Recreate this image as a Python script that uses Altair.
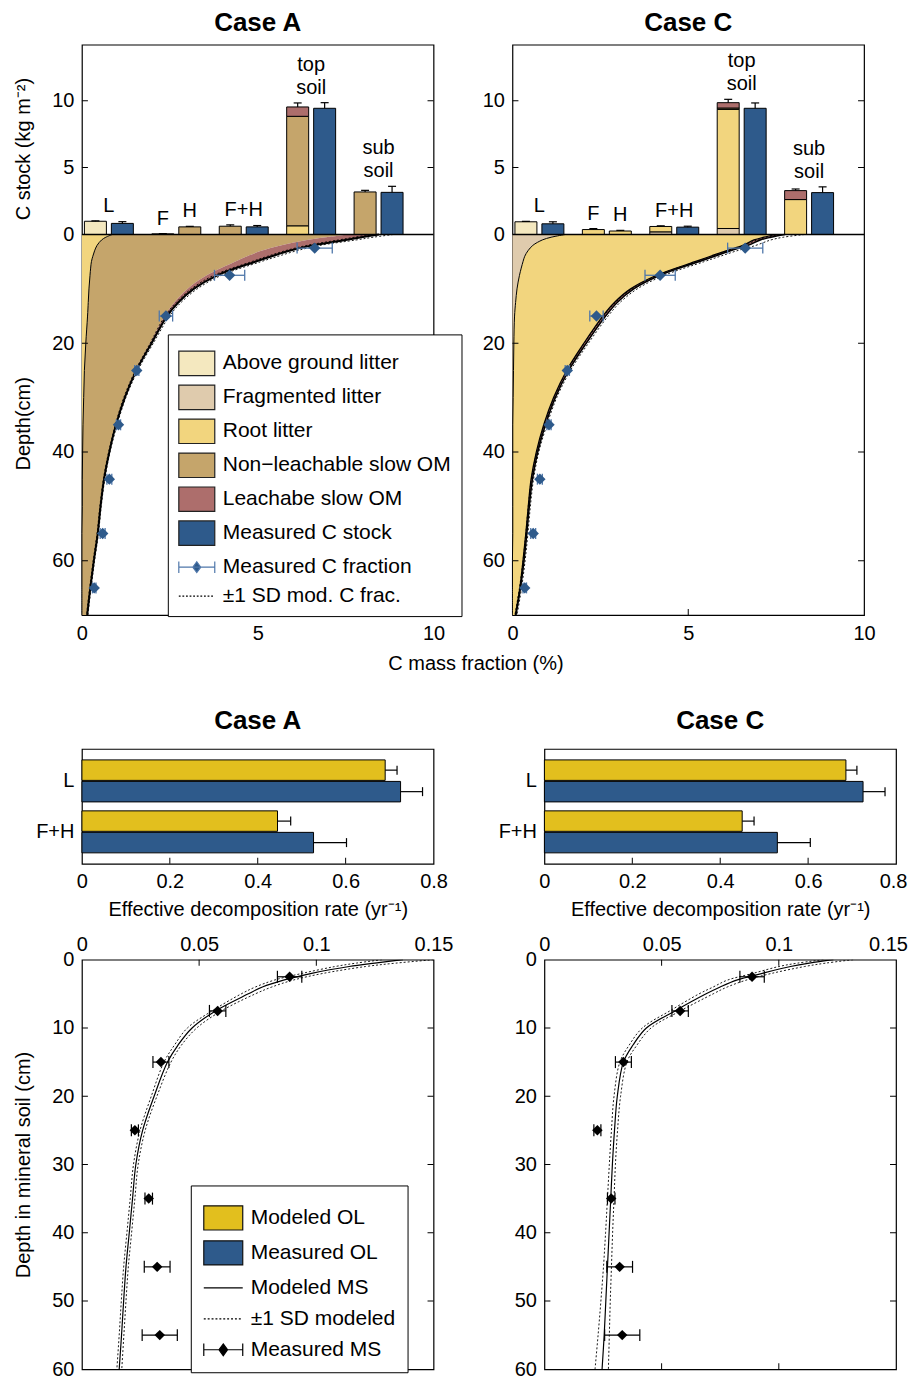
import altair as alt
import pandas as pd

FONT = "Liberation Sans"
MEAS_BLUE = "#2e5a8b"
ERR_BLUE = "#4f77aa"
MOD_YELLOW = "#e2bf1e"

# ---------------------------------------------------------------- names
ABOVE = "Above ground litter"
FRAG = "Fragmented litter"
ROOT = "Root litter"
NONLEACH = "Non\u2212leachable slow OM"
LEACH = "Leachabe slow OM"
MEAS_STOCK = "Measured C stock"
MEAS_FRAC = "Measured C fraction"
SD_FRAC = "\u00b11 SD mod. C frac."
TOP_LEGEND = [ABOVE, FRAG, ROOT, NONLEACH, LEACH, MEAS_STOCK, MEAS_FRAC, SD_FRAC]
TOP_FILL = ["#f4e8bf", "#dfcbad", "#f2d57e", "#c5a56b", "#ad6e6c", MEAS_BLUE, MEAS_BLUE, "rgba(0,0,0,0)"]
TOP_STROKE = ["#222222", "#222222", "#222222", "#222222", "#222222", "#222222", ERR_BLUE, "#000000"]

RECT_TOP = "M-1,-0.68H1V0.68H-1Z"
RECT_BOT = "M-1,-0.62H1V0.62H-1Z"
MEAS_SYM = "M-1,0H1M-1,-0.32V0.32M1,-0.32V0.32M0,-0.3L0.22,0L0,0.3L-0.22,0Z"
DOT_SYM = ("M-1,0H-0.9M-0.8,0H-0.7M-0.6,0H-0.5M-0.4,0H-0.3M-0.2,0H-0.1"
           "M0,0H0.1M0.2,0H0.3M0.4,0H0.5M0.6,0H0.7M0.8,0H0.9")
LINE_SYM = "M-1,0H1"
TOP_SHAPE = [RECT_TOP] * 6 + [MEAS_SYM, DOT_SYM]

BOT_LEGEND = ["Modeled OL", "Measured OL", "Modeled MS", "\u00b11 SD modeled", "Measured MS"]
BOT_FILL = [MOD_YELLOW, MEAS_BLUE, "rgba(0,0,0,0)", "rgba(0,0,0,0)", "#000000"]
BOT_STROKE = ["#111111", "#111111", "#000000", "#000000", "#000000"]
BOT_SHAPE = [RECT_BOT, RECT_BOT, LINE_SYM, DOT_SYM, MEAS_SYM]

# ---------------------------------------------------------------- stock bars
BAR_GROUPS = ["L", "F|H", "F+H", "top soil", "sub soil"]

BAR_A_GROUP = ["L", "L", "F|H", "F|H", "F+H", "F+H", "top soil", "top soil", "top soil", "top soil", "sub soil", "sub soil"]
BAR_A_SLOT = ["a", "b", "a", "b", "a", "b", "a", "a", "a", "b", "a", "b"]
BAR_A_COMP = [ABOVE, MEAS_STOCK, FRAG, NONLEACH, NONLEACH, MEAS_STOCK, ROOT, NONLEACH, LEACH, MEAS_STOCK, NONLEACH, MEAS_STOCK]
BAR_A_VAL = [0.99, 0.83, 0.05, 0.57, 0.62, 0.57, 0.65, 8.18, 0.70, 9.43, 3.18, 3.15]

BAR_C_GROUP = ["L", "L", "F|H", "F|H", "F+H", "F+H", "F+H", "top soil", "top soil", "top soil", "top soil", "top soil", "sub soil", "sub soil", "sub soil"]
BAR_C_SLOT = ["a", "b", "a", "b", "a", "a", "b", "a", "a", "a", "a", "b", "a", "a", "b"]
BAR_C_COMP = [ABOVE, MEAS_STOCK, ROOT, ROOT, FRAG, ROOT, MEAS_STOCK, FRAG, ROOT, NONLEACH, LEACH, MEAS_STOCK, ROOT, LEACH, MEAS_STOCK]
BAR_C_VAL = [0.95, 0.80, 0.37, 0.26, 0.20, 0.40, 0.55, 0.45, 8.90, 0.10, 0.40, 9.43, 2.61, 0.67, 3.13]

ERR_GROUP = ["L", "L", "F|H", "F|H", "F+H", "F+H", "top soil", "top soil", "sub soil", "sub soil"]
ERR_SLOT = ["a", "b", "a", "b", "a", "b", "a", "b", "a", "b"]
ERR_A = [0.03, 0.13, 0.02, 0.04, 0.10, 0.10, 0.30, 0.42, 0.12, 0.45]
ERR_C = [0.03, 0.15, 0.07, 0.05, 0.05, 0.07, 0.25, 0.40, 0.12, 0.43]

LABEL_TEXT = ["L", "F", "H", "F+H", "soil", "soil"]
LABEL_UPPER = ["", "", "", "", "top", "sub"]
LABEL_GROUP = ["L", "F|H", "F|H", "F+H", "top soil", "sub soil"]
LABEL_SLOT = ["", "a", "b", "", "", ""]

# ---------------------------------------------------------------- C fraction profiles
DEPTH = [0, 0.5, 1, 2, 3, 4, 5, 7.5, 10, 12.5, 15, 20, 25, 30, 35, 40, 45, 50, 55, 60, 65, 70]

A_ROOT = [0.86, 0.68, 0.56, 0.43, 0.36, 0.31, 0.27, 0.23, 0.20, 0.18, 0.16, 0.11, 0.07, 0.05, 0.03, 0.02, 0.01, 0.01, 0.0, 0.0, 0.0, 0.0]
A_NONLEACH = [6.74, 6.27, 5.84, 5.22, 4.74, 4.39, 4.08, 3.32, 2.80, 2.45, 2.19, 1.83, 1.45, 1.15, 0.92, 0.75, 0.61, 0.51, 0.44, 0.335, 0.235, 0.145]
A_LEACH = [0.85, 1.00, 1.10, 0.90, 0.80, 0.70, 0.58, 0.30, 0.18, 0.11, 0.07, 0.04, 0.03, 0.02, 0.02, 0.01, 0.01, 0.01, 0.01, 0.005, 0.005, 0.005]
A_SD_LO = [8.2, 7.75, 7.3, 6.4, 5.77, 5.28, 4.82, 3.75, 3.11, 2.68, 2.36, 1.94, 1.52, 1.19, 0.95, 0.76, 0.61, 0.51, 0.43, 0.32, 0.22, 0.13]
A_SD_HI = [8.85, 8.28, 7.8, 6.77, 6.1, 5.58, 5.09, 3.97, 3.28, 2.82, 2.49, 2.03, 1.59, 1.25, 1.0, 0.8, 0.65, 0.55, 0.47, 0.36, 0.26, 0.17]

C_FRAG = [1.5, 1.1, 0.85, 0.58, 0.44, 0.35, 0.30, 0.20, 0.13, 0.09, 0.06, 0.04, 0.03, 0.02, 0.01, 0.01, 0.01, 0.01, 0.01, 0.0, 0.0, 0.0]
C_ROOT = [6.0, 6.05, 6.02, 5.97, 5.63, 5.28, 4.89, 3.90, 3.23, 2.81, 2.51, 1.99, 1.51, 1.15, 0.88, 0.67, 0.52, 0.44, 0.37, 0.30, 0.21, 0.08]
C_LEACH = [0.25, 0.2, 0.18, 0.15, 0.13, 0.12, 0.11, 0.10, 0.09, 0.08, 0.08, 0.07, 0.06, 0.05, 0.05, 0.04, 0.04, 0.03, 0.03, 0.03, 0.02, 0.02]
C_SD_LO = [7.6, 7.23, 6.95, 6.62, 6.12, 5.67, 5.22, 4.13, 3.39, 2.93, 2.6, 2.05, 1.56, 1.19, 0.91, 0.69, 0.54, 0.45, 0.38, 0.30, 0.20, 0.07]
C_SD_HI = [8.3, 7.7, 7.35, 6.92, 6.38, 5.91, 5.45, 4.32, 3.55, 3.06, 2.72, 2.16, 1.65, 1.26, 0.98, 0.75, 0.60, 0.51, 0.44, 0.36, 0.26, 0.13]

FRAC_DEPTH = [2.5, 7.5, 15, 25, 35, 45, 55, 65]
FRAC_VAL = [6.62, 4.2, 2.39, 1.56, 1.04, 0.78, 0.59, 0.35]
FRAC_ERR = [0.5, 0.43, 0.19, 0.06, 0.06, 0.07, 0.07, 0.05]

# ---------------------------------------------------------------- decomposition rates
RATE_LAYER = ["L", "L", "F+H", "F+H"]
RATE_TYPE = ["Modeled OL", "Measured OL", "Modeled OL", "Measured OL"]
RATE_A = [0.69, 0.725, 0.445, 0.527]
RATE_ERR_A = [0.027, 0.05, 0.03, 0.075]
RATE_C = [0.686, 0.725, 0.45, 0.53]
RATE_ERR_C = [0.025, 0.05, 0.027, 0.075]

# ---------------------------------------------------------------- mineral soil
MOD_DEPTH = [0, 0.5, 1, 2, 3, 4, 5, 7.5, 10, 12.5, 15, 20, 25, 30, 35, 40, 45, 50, 55, 60]
MS_A = [0.137, 0.125, 0.114, 0.098, 0.086, 0.077, 0.071, 0.057, 0.047, 0.041, 0.0365, 0.0308, 0.0259, 0.0230, 0.0216, 0.0202, 0.0188, 0.0178, 0.0169, 0.0159]
MS_A_HI = [0.150, 0.134, 0.121, 0.103, 0.090, 0.081, 0.074, 0.0595, 0.049, 0.0425, 0.038, 0.032, 0.027, 0.024, 0.0226, 0.0212, 0.0198, 0.0188, 0.0179, 0.0170]
MS_A_LO = [0.128, 0.117, 0.108, 0.094, 0.082, 0.074, 0.068, 0.0555, 0.045, 0.0395, 0.035, 0.0296, 0.0248, 0.022, 0.0206, 0.0192, 0.0178, 0.0168, 0.0159, 0.0149]
MS_C = [0.1233, 0.113, 0.105, 0.093, 0.082, 0.075, 0.069, 0.0557, 0.0435, 0.0378, 0.0337, 0.0311, 0.0299, 0.029, 0.0283, 0.0276, 0.0269, 0.0262, 0.0255, 0.0246]
MS_C_HI = [0.1317, 0.12, 0.111, 0.097, 0.086, 0.078, 0.072, 0.058, 0.0455, 0.0395, 0.0352, 0.0325, 0.0312, 0.0303, 0.0297, 0.0291, 0.0286, 0.0281, 0.0277, 0.0273]
MS_C_LO = [0.119, 0.108, 0.1, 0.089, 0.078, 0.072, 0.066, 0.0535, 0.0418, 0.0362, 0.0322, 0.0297, 0.0286, 0.0277, 0.0269, 0.0261, 0.0252, 0.0241, 0.0229, 0.0216]

OBS_DEPTH = [2.5, 7.5, 15, 25, 35, 45, 55]
OBS_VAL = [0.0886, 0.0579, 0.0337, 0.0226, 0.0285, 0.0321, 0.0332]
OBS_ERR = [0.0052, 0.0035, 0.0034, 0.0015, 0.0016, 0.0055, 0.0075]

# ---------------------------------------------------------------- tick values (inner ticks, MATLAB style)
TOP_X_TICKS = [5]
TOP_DEPTH_TICKS = [20, 40, 60]
TOP_BAR_TICKS = [5, 10]
MID_X_TICKS = [0.2, 0.4, 0.6]
BOT_X_TICKS = [0.05, 0.1]
BOT_DEPTH_TICKS = [10, 20, 30, 40, 50]

# ---------------------------------------------------------------- layout constants
TOP_W, TOP_H, BAR_ZERO = 352, 571, 190
BOT_H = 410
DEPTH_MAX, BAR_MAX = 70, 14.18
DEPTH_MIN = -DEPTH_MAX * BAR_ZERO / (TOP_H - BAR_ZERO)
BAR_MIN = -BAR_MAX * (TOP_H - BAR_ZERO) / BAR_ZERO
EXT = 40
RES = dict(fill="independent", stroke="independent", shape="independent", strokeWidth="independent")
TICK = dict(size=12, thickness=1, color="black", opacity=1, clip=True)

TOP_LEG = alt.Legend(orient="none", legendX=86, legendY=290, title=None, strokeColor="black",
                     fillColor="white", padding=10, symbolSize=1296, symbolStrokeWidth=1.2,
                     labelFontSize=21, labelFont=FONT, labelColor="black", labelOffset=7,
                     rowPadding=-6.3, labelLimit=500, symbolOpacity=1)
BOT_LEG = alt.Legend(orient="none", legendX=109, legendY=226, title=None, strokeColor="black",
                     fillColor="white", padding=12, symbolSize=1521, symbolStrokeWidth=1.2,
                     labelFontSize=21, labelFont=FONT, labelColor="black", labelOffset=7,
                     rowPadding=-6, labelLimit=500, symbolOpacity=1)


def case_title(text, offset):
    return alt.TitleParams(text, fontSize=26, fontWeight="bold", font=FONT, color="black",
                           offset=offset, anchor="middle", frame="group")


def ticks_on_sides(values, edges, xs, ys, **enc_kw):
    """horizontal inner ticks at y=values on the left/right edges (edges = x domain ends)"""
    df = pd.DataFrame([(e, v) for e in edges for v in values], columns=["ex", "ey"])
    return alt.Chart(df).mark_tick(orient="horizontal", **TICK).encode(
        x=alt.X("ex:Q", scale=xs, **enc_kw), y=alt.Y("ey:Q", scale=ys, **enc_kw))


def ticks_on_ends(values, edges, xs, ys, **enc_kw):
    """vertical inner ticks at x=values on the top/bottom edges (edges = y domain ends)"""
    df = pd.DataFrame([(v, e) for e in edges for v in values], columns=["ex", "ey"])
    return alt.Chart(df).mark_tick(orient="vertical", **TICK).encode(
        x=alt.X("ex:Q", scale=xs, **enc_kw), y=alt.Y("ey:Q", scale=ys, **enc_kw))


def bar_tables(groups, slots, comps, vals, errs):
    bars = pd.DataFrame({"grp": groups, "slot": slots, "comp": comps, "val": vals})
    bars["ord"] = [TOP_LEGEND.index(c) for c in comps]
    tot = bars.groupby(["grp", "slot"], as_index=False)["val"].sum()
    err = pd.DataFrame({"grp": ERR_GROUP, "slot": ERR_SLOT, "err": errs}).merge(tot, on=["grp", "slot"])
    err["hi"] = err["val"] + err["err"]
    top_of = {(g, s): h for g, s, h in zip(err["grp"], err["slot"], err["hi"])}
    labs = []
    for t, u, g, s in zip(LABEL_TEXT, LABEL_UPPER, LABEL_GROUP, LABEL_SLOT):
        if s:
            y = top_of[(g, s)]
        else:
            y = max(h for (gg, ss), h in top_of.items() if gg == g)
        labs.append({"grp": g, "slot": s, "text": t, "upper": u, "y": y})
    return bars, err, pd.DataFrame(labs)


def profile_table(comps, arrays):
    rows = []
    for comp, arr in zip(comps, arrays):
        for d, v in zip(DEPTH, arr):
            rows.append({"depth": d, "comp": comp, "val": v, "ord": TOP_LEGEND.index(comp)})
    return pd.DataFrame(rows)


def top_panel(title, bars, err, labs, prof, line_w, sd_lo, sd_hi, left):
    xs = alt.Scale(domain=[0, 10], nice=False, zero=False)
    ys = alt.Scale(domain=[DEPTH_MIN, DEPTH_MAX], reverse=True, nice=False, zero=False)
    bs = alt.Scale(domain=[BAR_MIN, BAR_MAX], nice=False, zero=False)
    fill_sc = alt.Scale(domain=TOP_LEGEND, range=TOP_FILL)
    leg = TOP_LEG if left else None

    xk = dict(values=[0, 5, 10], labelPadding=8)
    dk = dict(values=[20, 40, 60], orient="left", minExtent=EXT, maxExtent=EXT, titlePadding=8, labelPadding=8)
    bk = dict(values=[0, 5, 10], orient="left", minExtent=EXT, maxExtent=EXT, titlePadding=8, labelPadding=8)
    if left:
        xk.update(title="C mass fraction (%)", titleX=394, titlePadding=10)
        dk.update(title="Depth(cm)", titleY=379)
        bk.update(title="C stock (kg m\u207b\u00b2)", titleY=104)
    else:
        xk.update(title=None)
        dk.update(title=None)
        bk.update(title=None)

    area = alt.Chart(prof).mark_area(orient="horizontal", interpolate="catmull-rom").encode(
        x=alt.X("val:Q", stack="zero", scale=xs, axis=alt.Axis(**xk)),
        y=alt.Y("depth:Q", scale=ys, axis=alt.Axis(**dk)),
        fill=alt.Fill("comp:N", scale=fill_sc, legend=leg),
        order=alt.Order("ord:Q"),
    )
    edges = alt.Chart(prof).transform_stack(
        stack="val", groupby=["depth"], as_=["x0", "x1"], sort=[alt.SortField("ord")]
    ).transform_filter(
        alt.FieldOneOfPredicate(field="comp", oneOf=list(line_w.keys()))
    ).mark_line(interpolate="catmull-rom", color="black").encode(
        x=alt.X("x1:Q", scale=xs),
        y=alt.Y("depth:Q", scale=ys),
        detail="comp:N",
        order=alt.Order("depth:Q"),
        strokeWidth=alt.StrokeWidth("comp:N", scale=alt.Scale(domain=list(line_w.keys()), range=list(line_w.values())), legend=None),
    )
    sd_df = pd.DataFrame({"depth": DEPTH, "lo": sd_lo, "hi": sd_hi})
    sd = alt.Chart(sd_df).transform_fold(["lo", "hi"], as_=["which", "v"]).mark_line(
        interpolate="catmull-rom", color="black", strokeWidth=0.9, strokeDash=[2, 2]
    ).encode(
        x=alt.X("v:Q", scale=xs),
        y=alt.Y("depth:Q", scale=ys),
        detail="which:N",
        order=alt.Order("depth:Q"),
    )
    meas = alt.Chart(pd.DataFrame({"depth": FRAC_DEPTH, "val": FRAC_VAL, "err": FRAC_ERR})).transform_calculate(
        lo="datum.val - datum.err", hi="datum.val + datum.err")
    m_rule = meas.mark_rule(color=ERR_BLUE, strokeWidth=1.3).encode(
        x=alt.X("lo:Q", scale=xs), x2="hi:Q", y=alt.Y("depth:Q", scale=ys))
    m_caps = meas.transform_fold(["lo", "hi"], as_=["end", "xe"]).mark_tick(
        orient="vertical", color=ERR_BLUE, size=11, thickness=1.3, opacity=1).encode(
        x=alt.X("xe:Q", scale=xs), y=alt.Y("depth:Q", scale=ys))
    m_pts = meas.mark_point(shape="diamond", filled=True, size=130, color=MEAS_BLUE, opacity=1).encode(
        x=alt.X("val:Q", scale=xs), y=alt.Y("depth:Q", scale=ys))
    t_side = ticks_on_sides(TOP_DEPTH_TICKS, [0, 10], xs, ys)
    t_end = ticks_on_ends(TOP_X_TICKS, [DEPTH_MAX], xs, ys)

    prof_layers = [area, edges, sd, m_rule, m_caps, m_pts, t_side, t_end]
    if left:
        legend_layer = alt.Chart(pd.DataFrame({"comp": TOP_LEGEND})).transform_filter("false").mark_point(
            filled=True, opacity=1).encode(
            fill=alt.Fill("comp:N", scale=fill_sc, legend=TOP_LEG),
            stroke=alt.Stroke("comp:N", scale=alt.Scale(domain=TOP_LEGEND, range=TOP_STROKE), legend=TOP_LEG),
            shape=alt.Shape("comp:N", scale=alt.Scale(domain=TOP_LEGEND, range=TOP_SHAPE), legend=TOP_LEG),
        )
        prof_layers.append(legend_layer)
    profile = alt.layer(*prof_layers)

    xb = alt.Scale(domain=BAR_GROUPS, paddingInner=0.2, paddingOuter=0.2075, align=0)
    xo = alt.Scale(domain=["a", "b"], paddingInner=0.185, paddingOuter=0.0926)
    bar = alt.Chart(bars).transform_stack(
        stack="val", groupby=["grp", "slot"], as_=["v0", "v1"], sort=[alt.SortField("ord")]
    ).mark_bar(stroke="black", strokeWidth=1).encode(
        x=alt.X("grp:N", scale=xb, axis=None),
        xOffset=alt.XOffset("slot:N", scale=xo),
        y=alt.Y("v0:Q", scale=bs, axis=alt.Axis(**bk)),
        y2="v1:Q",
        fill=alt.Fill("comp:N", scale=fill_sc, legend=leg),
    )
    e_rule = alt.Chart(err).mark_rule(color="black", strokeWidth=1.2).encode(
        x=alt.X("grp:N", scale=xb, axis=None), xOffset=alt.XOffset("slot:N", scale=xo),
        y=alt.Y("val:Q", scale=bs), y2="hi:Q")
    e_cap = alt.Chart(err).mark_tick(orient="horizontal", color="black", size=8, thickness=1.2, opacity=1).encode(
        x=alt.X("grp:N", scale=xb, axis=None), xOffset=alt.XOffset("slot:N", scale=xo),
        y=alt.Y("hi:Q", scale=bs))
    txt_kw = dict(fontSize=20, font=FONT, color="black", baseline="bottom")
    pair = labs[labs["slot"] == ""]
    upper = pair[pair["upper"] != ""]
    lab_pair = alt.Chart(pair).mark_text(dy=-5, **txt_kw).encode(
        x=alt.X("grp:N", scale=xb, axis=None), y=alt.Y("y:Q", scale=bs), text="text:N")
    lab_upper = alt.Chart(upper).mark_text(dy=-28, **txt_kw).encode(
        x=alt.X("grp:N", scale=xb, axis=None), y=alt.Y("y:Q", scale=bs), text="upper:N")
    lab_one = alt.Chart(labs[labs["slot"] != ""]).mark_text(dy=-5, **txt_kw).encode(
        x=alt.X("grp:N", scale=xb, axis=None), xOffset=alt.XOffset("slot:N", scale=xo),
        y=alt.Y("y:Q", scale=bs), text="text:N")
    sep = alt.Chart(pd.DataFrame({"z": [0]})).mark_rule(color="black", strokeWidth=1.5).encode(
        y=alt.Y("z:Q", scale=bs))
    stock = alt.layer(bar, e_rule, e_cap, lab_pair, lab_upper, lab_one, sep)

    # inner ticks of the stock axis on both frame sides (own unit-width x scale)
    bar_ticks = ticks_on_sides(TOP_BAR_TICKS, [0, 1], alt.Scale(domain=[0, 1], nice=False, zero=False), bs, axis=None)

    return alt.layer(profile, stock, bar_ticks).resolve_scale(x="independent", y="independent").properties(
        width=TOP_W, height=TOP_H, title=case_title(title, 9))


def mid_panel(title, vals, errs, left):
    df = pd.DataFrame({"layer": RATE_LAYER, "type": RATE_TYPE, "rate": vals, "err": errs})
    xs = alt.Scale(domain=[0, 0.8], nice=False, zero=False)
    ys = alt.Scale(domain=["L", "F+H"], paddingInner=0.176, paddingOuter=0.215)
    yo = alt.Scale(domain=["Modeled OL", "Measured OL"], paddingInner=0.048, paddingOuter=0)
    yk = dict(minExtent=EXT, maxExtent=EXT, titlePadding=8, labelPadding=8)
    yk.update(title="\u00a0" if left else None)
    xk = dict(values=[0, 0.2, 0.4, 0.6, 0.8], format="~g", title="Effective decomposition rate (yr\u207b\u00b9)",
              labelPadding=8, titlePadding=8)
    if not left:
        xk["labelOffset"] = {"condition": {"test": "datum.value >= 0.79", "value": -3}, "value": 0}
    base = alt.Chart(df)
    bars = base.mark_bar(stroke="black", strokeWidth=1).encode(
        x=alt.X("rate:Q", scale=xs, axis=alt.Axis(**xk)),
        y=alt.Y("layer:N", scale=ys, axis=alt.Axis(**yk)),
        yOffset=alt.YOffset("type:N", scale=yo),
        fill=alt.Fill("type:N", scale=alt.Scale(domain=["Modeled OL", "Measured OL"], range=[MOD_YELLOW, MEAS_BLUE]), legend=None),
    )
    eb = base.transform_calculate(hi="datum.rate + datum.err")
    e_rule = eb.mark_rule(color="black", strokeWidth=1.2).encode(
        x=alt.X("rate:Q", scale=xs), x2="hi:Q", y=alt.Y("layer:N", scale=ys), yOffset=alt.YOffset("type:N", scale=yo))
    e_cap = eb.mark_tick(orient="vertical", color="black", size=9, thickness=1.2, opacity=1).encode(
        x=alt.X("hi:Q", scale=xs), y=alt.Y("layer:N", scale=ys), yOffset=alt.YOffset("type:N", scale=yo))
    ticks_df = pd.DataFrame({"ex": MID_X_TICKS, "ey": [0] * len(MID_X_TICKS)})
    ticks = alt.Chart(ticks_df).mark_tick(orient="vertical", **TICK).encode(
        x=alt.X("ex:Q", scale=xs), y=alt.Y("ey:Q", scale=alt.Scale(domain=[0, 1], nice=False, zero=False), axis=None))
    return alt.layer(alt.layer(bars, e_rule, e_cap), ticks).resolve_scale(y="independent").properties(
        width=352, height=115, title=case_title(title, 15))


def bottom_panel(mod, lo, hi, left):
    xs = alt.Scale(domain=[0, 0.15], nice=False, zero=False)
    ys = alt.Scale(domain=[0, 60], reverse=True, nice=False, zero=False)
    mdf = pd.DataFrame({"depth": MOD_DEPTH, "mod": mod, "lo": lo, "hi": hi})
    yk = dict(values=[0, 10, 20, 30, 40, 50, 60], minExtent=EXT, maxExtent=EXT, titlePadding=8, labelPadding=8)
    yk.update(title="Depth in mineral soil (cm)" if left else None)
    xk = dict(orient="top", values=[0, 0.05, 0.1, 0.15], format="~g", title=None, labelPadding=5)
    if not left:
        xk["labelOffset"] = {"condition": {"test": "datum.value >= 0.149", "value": -8}, "value": 0}
    line = alt.Chart(mdf).mark_line(interpolate="catmull-rom", color="black", strokeWidth=1.2, clip=True).encode(
        x=alt.X("mod:Q", scale=xs, axis=alt.Axis(**xk)),
        y=alt.Y("depth:Q", scale=ys, axis=alt.Axis(**yk)),
        order=alt.Order("depth:Q"),
    )
    sd = alt.Chart(mdf).transform_fold(["lo", "hi"], as_=["which", "v"]).mark_line(
        interpolate="catmull-rom", color="black", strokeWidth=0.9, strokeDash=[2, 2], clip=True).encode(
        x=alt.X("v:Q", scale=xs), y=alt.Y("depth:Q", scale=ys),
        detail="which:N", order=alt.Order("depth:Q"))
    obs = alt.Chart(pd.DataFrame({"depth": OBS_DEPTH, "val": OBS_VAL, "err": OBS_ERR})).transform_calculate(
        lo="datum.val - datum.err", hi="datum.val + datum.err")
    o_rule = obs.mark_rule(color="black", strokeWidth=1.2).encode(
        x=alt.X("lo:Q", scale=xs), x2="hi:Q", y=alt.Y("depth:Q", scale=ys))
    o_caps = obs.transform_fold(["lo", "hi"], as_=["end", "xe"]).mark_tick(
        orient="vertical", color="black", size=12, thickness=1.2, opacity=1).encode(
        x=alt.X("xe:Q", scale=xs), y=alt.Y("depth:Q", scale=ys))
    o_pts = obs.mark_point(shape="diamond", filled=True, size=110, color="black", opacity=1).encode(
        x=alt.X("val:Q", scale=xs), y=alt.Y("depth:Q", scale=ys))
    t_side = ticks_on_sides(BOT_DEPTH_TICKS, [0, 0.15], xs, ys)
    t_end = ticks_on_ends(BOT_X_TICKS, [0, 60], xs, ys)
    layers = [line, sd, o_rule, o_caps, o_pts, t_side, t_end]
    if left:
        layers.append(
            alt.Chart(pd.DataFrame({"entry": BOT_LEGEND})).transform_filter("false").mark_point(
                filled=True, opacity=1).encode(
                fill=alt.Fill("entry:N", scale=alt.Scale(domain=BOT_LEGEND, range=BOT_FILL), legend=BOT_LEG),
                stroke=alt.Stroke("entry:N", scale=alt.Scale(domain=BOT_LEGEND, range=BOT_STROKE), legend=BOT_LEG),
                shape=alt.Shape("entry:N", scale=alt.Scale(domain=BOT_LEGEND, range=BOT_SHAPE), legend=BOT_LEG),
            ))
    return alt.layer(*layers).properties(width=352, height=BOT_H)


bars_a, err_a, labs_a = bar_tables(BAR_A_GROUP, BAR_A_SLOT, BAR_A_COMP, BAR_A_VAL, ERR_A)
bars_c, err_c, labs_c = bar_tables(BAR_C_GROUP, BAR_C_SLOT, BAR_C_COMP, BAR_C_VAL, ERR_C)
prof_a = profile_table([ROOT, NONLEACH, LEACH], [A_ROOT, A_NONLEACH, A_LEACH])
prof_c = profile_table([FRAG, ROOT, LEACH], [C_FRAG, C_ROOT, C_LEACH])

top_a = top_panel("Case A", bars_a, err_a, labs_a, prof_a, {ROOT: 1.0, LEACH: 2.0}, A_SD_LO, A_SD_HI, True)
top_c = top_panel("Case C", bars_c, err_c, labs_c, prof_c, {FRAG: 1.0, ROOT: 1.5, LEACH: 1.5}, C_SD_LO, C_SD_HI, False)
mid_a = mid_panel("Case A", RATE_A, RATE_ERR_A, True)
mid_c = mid_panel("Case C", RATE_C, RATE_ERR_C, False)
bot_a = bottom_panel(MS_A, MS_A_LO, MS_A_HI, True)
bot_c = bottom_panel(MS_C, MS_C_LO, MS_C_HI, False)

top_row = alt.hconcat(top_a, top_c, spacing=79, bounds="flush").resolve_scale(**RES)
mid_row = alt.hconcat(mid_a, mid_c, spacing=111, bounds="flush").resolve_scale(**RES)
bot_row = alt.hconcat(bot_a, bot_c, spacing=111, bounds="flush").resolve_scale(**RES)
lower = alt.vconcat(mid_row, bot_row, spacing=13).resolve_scale(**RES)

chart = alt.vconcat(top_row, lower, spacing=33).resolve_scale(**RES).properties(
    padding={"left": 5, "top": 0, "right": 0, "bottom": 0}
).configure(font=FONT).configure_view(stroke="black", strokeWidth=1.2).configure_axis(
    labelFont=FONT, titleFont=FONT, labelFontSize=20, titleFontSize=20, titleFontWeight="normal",
    labelColor="black", titleColor="black", grid=False, ticks=False, domain=False, labelFlush=False
).configure_title(font=FONT, color="black")

chart.save("out.html", embed_options={"renderer": "svg", "actions": False})
